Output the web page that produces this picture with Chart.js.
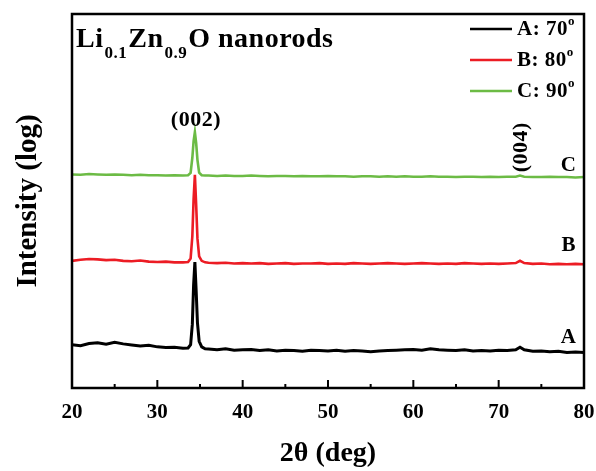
<!DOCTYPE html>
<html>
<head>
<meta charset="utf-8">
<script src="https://cdn.jsdelivr.net/npm/chart.js@4.4.1/dist/chart.umd.min.js"></script>
<style>
  html, body { margin: 0; padding: 0; background: #fff; }
</style>
</head>
<body>
<canvas id="xrd" width="596" height="471"></canvas>
<script>
// 2-theta positions (deg), denser around the (002) reflection
const twoTheta = [
  20, 21, 22, 23, 24, 25, 26, 27, 28, 29,
  30, 31, 32, 33, 33.6, 33.9, 34.1, 34.25, 34.4, 34.55,
  34.7, 34.9, 35.2, 35.6, 36, 37, 38, 39, 40, 41,
  42, 43, 44, 45, 46, 47, 48, 49, 50, 51,
  52, 53, 54, 55, 56, 57, 58, 59, 60, 61,
  62, 63, 64, 65, 66, 67, 68, 69, 70, 71,
  72, 72.5, 73, 74, 75, 76, 77, 78, 79, 80
];

// log intensity, vertically offset per sample (arb. units)
const sampleA = [
  11.6, 11.3, 11.9, 12.1, 11.7, 12.2, 11.8, 11.5, 11.2, 11.4,
  11.0, 10.8, 10.9, 10.6, 10.7, 11.6, 17.0, 27.5, 33.7, 26.0,
  17.5, 12.5, 11.0, 10.5, 10.4, 10.2, 10.5, 10.1, 10.2, 10.3,
  10.0, 10.2, 9.9, 10.1, 10.0, 9.8, 10.1, 10.0, 9.9, 10.1,
  9.8, 10.0, 9.9, 9.7, 9.9, 10.0, 10.1, 10.2, 10.3, 10.1,
  10.5, 10.2, 10.1, 10.0, 10.2, 9.9, 10.0, 9.9, 10.1, 10.0,
  10.2, 10.9, 10.2, 9.8, 9.9, 9.7, 9.8, 9.5, 9.6, 9.5
];
const sampleB = [
  34.0, 34.3, 34.5, 34.4, 34.2, 34.3, 34.0, 33.9, 34.1, 33.8,
  33.7, 33.8, 33.6, 33.6, 33.7, 34.6, 40.5, 50.5, 57.0, 49.0,
  40.0, 35.2, 34.0, 33.6, 33.5, 33.4, 33.5, 33.3, 33.4, 33.3,
  33.4, 33.2, 33.3, 33.4, 33.2, 33.3, 33.3, 33.4, 33.2, 33.3,
  33.2, 33.4, 33.3, 33.2, 33.3, 33.4, 33.3, 33.2, 33.3, 33.4,
  33.3, 33.2, 33.3, 33.2, 33.4, 33.3, 33.2, 33.3, 33.2, 33.3,
  33.4, 34.0, 33.4, 33.2, 33.3, 33.1, 33.2, 33.1, 33.2, 33.1
];
const sampleC = [
  57.1, 57.0, 57.2, 57.1, 57.0, 57.1, 57.0, 56.9, 57.0, 56.9,
  56.9, 56.8, 56.9, 56.8, 56.9, 57.5, 61.5, 66.0, 68.4, 65.5,
  61.0, 57.6, 56.9, 56.8, 56.8, 56.7, 56.8, 56.7, 56.7, 56.8,
  56.7, 56.6, 56.7, 56.7, 56.6, 56.7, 56.6, 56.6, 56.7, 56.6,
  56.6, 56.5, 56.6, 56.6, 56.5, 56.6, 56.5, 56.6, 56.5, 56.5,
  56.6, 56.5, 56.5, 56.4, 56.5, 56.5, 56.4, 56.5, 56.4, 56.5,
  56.5, 56.8, 56.5, 56.4, 56.4, 56.5, 56.4, 56.4, 56.3, 56.4
];

const seriesNames = ['A: 70', 'B: 80', 'C: 90'];
const curveTags = ['A', 'B', 'C'];
const seriesColors = ['#000000', '#ec1c24', '#6cbb45'];
const majorTicks = [20, 30, 40, 50, 60, 70, 80];
const minorTicks = [25, 35, 45, 55, 65, 75];
const peakLabels = ['(002)', '(004)'];
const peakPositions = [34.4, 72.5];

const SERIF = '"Liberation Serif", "Times New Roman", serif';
const bold = (size) => 'bold ' + size + 'px ' + SERIF;

const toPoints = (ys) => twoTheta.map((x, i) => ({ x, y: ys[i] }));

// frame, inward ticks, legend and text annotations
const decorations = {
  id: 'decorations',
  afterDatasetsDraw(chart) {
    const { ctx, chartArea: a, scales: { x, y } } = chart;
    ctx.save();
    ctx.strokeStyle = '#000';
    ctx.lineWidth = 2;
    majorTicks.concat(minorTicks).forEach((v) => {
      const px = x.getPixelForValue(v);
      const len = majorTicks.includes(v) ? 8 : 4;
      ctx.beginPath();
      ctx.moveTo(px, a.bottom);
      ctx.lineTo(px, a.bottom - len);
      ctx.stroke();
    });
    ctx.lineWidth = 2.5;
    ctx.strokeRect(a.left, a.top, a.right - a.left, a.bottom - a.top);

    ctx.fillStyle = '#000';
    ctx.textBaseline = 'alphabetic';
    ctx.letterSpacing = '0.5px';

    // sample title with subscripts
    let tx = a.left + 4;
    const base = a.top + 33;
    [['Li', 0], ['0.1', 1], ['Zn', 0], ['0.9', 1], ['O nanorods', 0]].forEach(([t, sub]) => {
      ctx.font = sub ? bold(17) : bold(28);
      ctx.fillText(t, tx, sub ? base + 11 : base);
      tx += ctx.measureText(t).width + 1;
    });

    // legend
    chart.data.datasets.forEach((ds, i) => {
      const ly = a.top + 15 + i * 31;
      ctx.strokeStyle = ds.borderColor;
      ctx.lineWidth = 2.5;
      ctx.beginPath();
      ctx.moveTo(470, ly);
      ctx.lineTo(512, ly);
      ctx.stroke();
      ctx.font = bold(21);
      ctx.textBaseline = 'middle';
      ctx.fillText(seriesNames[i], 517, ly + 1);
      const w = ctx.measureText(seriesNames[i]).width;
      ctx.font = bold(13);
      ctx.fillText('o', 517 + w, ly - 7);
    });

    // peak indices
    ctx.font = bold(22);
    ctx.textAlign = 'center';
    ctx.textBaseline = 'middle';
    ctx.fillText(peakLabels[0], x.getPixelForValue(peakPositions[0]) + 1, y.getPixelForValue(71.5));
    ctx.save();
    ctx.translate(x.getPixelForValue(peakPositions[1]) + 1, y.getPixelForValue(64.4));
    ctx.rotate(-Math.PI / 2);
    ctx.fillText(peakLabels[1], 0, 0);
    ctx.restore();

    // curve tags
    ctx.font = bold(21);
    const tagY = [13.6, 38.2, 59.6];
    curveTags.forEach((t, i) => {
      ctx.fillText(t, x.getPixelForValue(78.2), y.getPixelForValue(tagY[i]));
    });
    ctx.restore();
  }
};

new Chart(document.getElementById('xrd'), {
  type: 'line',
  data: {
    datasets: [sampleA, sampleB, sampleC].map((ys, i) => ({
      label: seriesNames[i],
      data: toPoints(ys),
      borderColor: seriesColors[i],
      borderWidth: i === 0 ? 3 : 2.6,
      pointRadius: 0,
      tension: 0,
      order: 2 - i
    }))
  },
  options: {
    responsive: false,
    animation: false,
    devicePixelRatio: 1,
    layout: { padding: { top: 14, right: 12, left: 0, bottom: 0 } },
    plugins: { legend: { display: false }, tooltip: { enabled: false } },
    scales: {
      x: {
        type: 'linear',
        min: 20,
        max: 80,
        ticks: { stepSize: 10, color: '#000', font: { family: SERIF, size: 21, weight: 'bold' }, padding: 12, maxRotation: 0 },
        grid: { display: false, drawTicks: false },
        border: { display: false },
        title: { display: true, text: '2θ (deg)', color: '#000', font: { family: SERIF, size: 28, weight: 'bold' }, padding: { top: 0, bottom: 0 } },
        afterFit(s) { s.height = 83; s.paddingLeft = 0; s.paddingRight = 0; }
      },
      y: {
        min: 0,
        max: 100,
        ticks: { display: false },
        grid: { display: false, drawTicks: false },
        border: { display: false },
        title: { display: true, text: 'Intensity (log)', color: '#000', font: { family: SERIF, size: 29, weight: 'bold' }, padding: { top: 11, bottom: 0 } },
        afterFit(s) { s.width = 72; }
      }
    }
  },
  plugins: [decorations]
});
</script>
</body>
</html>
